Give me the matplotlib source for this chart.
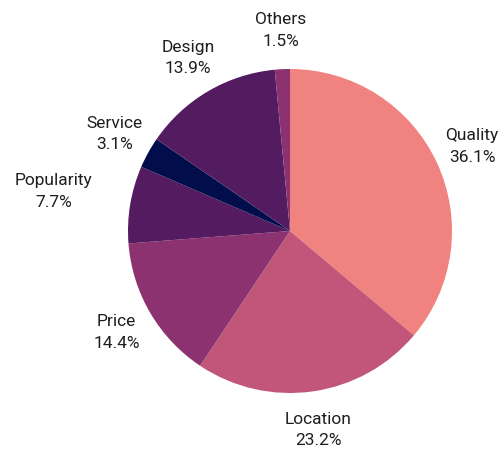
import numpy as np
import matplotlib
matplotlib.use("Agg")
import matplotlib.pyplot as plt

plt.rcParams['font.family'] = ['Roboto', 'DejaVu Sans']

categories = ["Quality", "Location", "Price", "Popularity", "Service", "Design", "Others"]
shares = [36.1, 23.2, 14.4, 7.7, 3.1, 13.9, 1.5]
colors = ["#F0827F", "#C1567A", "#8D3270", "#541B60", "#020E4C", "#541C60", "#8D3270"]
# popularity label sits further out so it clears the service label
label_dist = [1.24, 1.24, 1.24, 1.48, 1.24, 1.24, 1.24]

fig = plt.figure(figsize=(4.99, 4.54), dpi=100)
ax = fig.add_axes([0, 0, 1, 1])

R = 162.0  # pie radius in px
cx, cy = 290.0, 231.0
wedges, _ = ax.pie(shares, colors=colors, startangle=90, counterclock=False,
                   radius=1.0, center=(0, 0), frame=True,
                   wedgeprops=dict(linewidth=0))

for w, name, val, d in zip(wedges, categories, shares, label_dist):
    ang = np.deg2rad((w.theta1 + w.theta2) / 2)
    ax.text(d * np.cos(ang), d * np.sin(ang), f"{name}\n{val:.1f}%",
            ha="center", va="center", fontsize=12.5, color="#1e1e1e",
            linespacing=1.55)

ax.set_xlim(-cx / R, (499 - cx) / R)
ax.set_ylim(-(454 - cy) / R, cy / R)
ax.set_aspect("equal")
ax.axis("off")

fig.savefig("out.png", dpi=100)
